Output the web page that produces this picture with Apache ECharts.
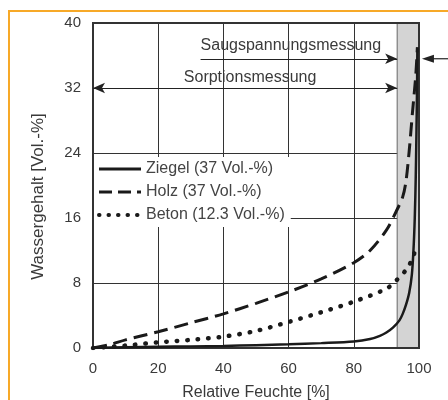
<!DOCTYPE html>
<html>
<head>
<meta charset="utf-8">
<script src="https://cdn.jsdelivr.net/npm/echarts@6/dist/echarts.min.js"></script>
<style>
html,body{margin:0;padding:0;background:#fff;}
#frame{position:absolute;left:8px;top:10px;width:460px;height:420px;border-left:2px solid #f7a928;border-top:2px solid #f7a928;box-sizing:border-box;}
#chart{position:absolute;left:0;top:0;width:448px;height:400px;}
</style>
</head>
<body>
<div id="frame"></div>
<div id="chart"></div>
<script>
const xTicks = [0, 20, 40, 60, 80, 100];
const yTicks = [0, 8, 16, 24, 32, 40];
const seriesNames = ['Ziegel (37 Vol.-%)', 'Holz (37 Vol.-%)', 'Beton (12.3 Vol.-%)'];
const ziegel = [[0,0],[10,0.1],[20,0.15],[30,0.2],[40,0.25],[50,0.35],[60,0.45],[70,0.6],[80,0.8],[85,1.1],[88,1.5],[90,1.9],[92,2.5],[94,3.4],[95,4.2],[96,5.3],[97,6.8],[97.8,9],[98.3,12],[98.7,16],[99,21],[99.2,26],[99.4,32],[99.5,37]];
const holz = [[0,0],[5,0.4],[10,1.0],[20,2.0],[30,3.1],[40,4.2],[50,5.5],[60,6.9],[70,8.5],[80,10.5],[85,12],[90,14.5],[93,16.8],[95,18.6],[96,20.5],[97,24.3],[98,29],[99,33.5],[99.5,37]];
const beton = [[0,0],[10,0.3],[20,0.7],[30,1.0],[40,1.4],[50,2.1],[60,3.2],[70,4.4],[80,5.7],[90,7.3],[93,8.3],[96,9.6],[98,11],[99,12.3]];
const bandRange = [93.3, 100];
const arrowSaug = {y: 35.6, from: 33, to: 93.3, label: 'Saugspannungsmessung'};
const arrowSorp = {y: 32, from: 0, to: 93.3, label: 'Sorptionsmessung'};
const arrowRight = {y: 35.6, from: 109, to: 100.9};

const chart = echarts.init(document.getElementById('chart'), null, {renderer: 'canvas'});
const font = 'Liberation Sans, Arial, sans-serif';
const txt = '#3a3a3a';
const gridLine = {show: true, lineStyle: {color: '#333', width: 1}};
const legendStyles = [
  {width: 3, type: 'solid'},
  {width: 3, type: [13, 6]},
  {width: 4, type: [0.5, 9], cap: 'round'}
];

chart.setOption({
  backgroundColor: 'transparent',
  animation: false,
  grid: {left: 93, right: 29, top: 23, bottom: 52, outerBoundsMode: 'none', containLabel: false,
    show: true, borderColor: '#333', borderWidth: 2, backgroundColor: 'transparent', z: 3},
  legend: {
    orient: 'vertical', left: 94, top: 157, width: 198,
    backgroundColor: '#fff', padding: [4, 6, 4, 3], itemGap: 7,
    itemWidth: 42, itemHeight: 15,
    itemStyle: {opacity: 0},
    textStyle: {fontFamily: font, fontSize: 16, color: '#444'},
    data: seriesNames.map((n, i) => ({name: n, lineStyle: Object.assign({color: '#1a1a1a'}, legendStyles[i])}))
  },
  xAxis: {
    type: 'value', min: 0, max: 100, interval: 20,
    name: 'Relative Feuchte [%]', nameLocation: 'middle', nameGap: 37,
    nameTextStyle: {fontFamily: font, fontSize: 16, color: txt},
    axisLine: {show: true, onZero: false, lineStyle: {color: '#333', width: 2}},
    axisTick: {show: false},
    axisLabel: {fontFamily: font, fontSize: 15, color: txt, margin: 13,
      formatter: v => xTicks.includes(v) ? String(v) : ''},
    splitLine: gridLine
  },
  yAxis: {
    type: 'value', min: 0, max: 40, interval: 8,
    name: 'Wassergehalt [Vol.-%]', nameLocation: 'middle', nameGap: 46,
    nameTextStyle: {fontFamily: font, fontSize: 17, color: txt, padding: [0, 22, 0, 0]},
    axisLine: {show: true, onZero: false, lineStyle: {color: '#333', width: 2}},
    axisTick: {show: false},
    axisLabel: {fontFamily: font, fontSize: 15, color: txt, margin: 12,
      formatter: v => yTicks.includes(v) ? String(v) : ''},
    splitLine: gridLine
  },
  series: [
    {
      name: seriesNames[0], type: 'line', data: ziegel, symbol: 'none', smooth: 0.3, z: 5,
      lineStyle: {color: '#1a1a1a', width: 2.5},
      itemStyle: {color: '#1a1a1a'},
      markArea: {
        silent: true, z: 1,
        itemStyle: {color: '#d4d4d4', borderColor: '#666', borderWidth: 1},
        data: [[{xAxis: bandRange[0], yAxis: 0}, {xAxis: bandRange[1], yAxis: 40}]]
      },
      markLine: {
        silent: true, symbol: ['none', 'arrow'], symbolSize: [8, 12], animation: false,
        lineStyle: {color: '#222', width: 1.2, type: 'solid'},
        label: {show: true, position: 'insideMiddleTop', fontFamily: font, fontSize: 16, color: txt, formatter: p => p.name || ''},
        data: [
          [{coord: [arrowSaug.from, arrowSaug.y], name: arrowSaug.label, label: {distance: 5, padding: [0, 16, 0, 0]}}, {coord: [arrowSaug.to, arrowSaug.y]}],
          [{coord: [arrowSorp.from, arrowSorp.y], name: arrowSorp.label, symbol: 'arrow', label: {distance: 2, padding: [0, 0, 0, 10]}}, {coord: [arrowSorp.to, arrowSorp.y]}]
        ]
      }
    },
    {
      name: seriesNames[1], type: 'line', data: holz, symbol: 'none', smooth: 0.3, z: 5,
      lineStyle: {color: '#1a1a1a', width: 3, type: [14, 7]},
      itemStyle: {color: '#1a1a1a'}
    },
    {
      name: seriesNames[2], type: 'line', data: beton, symbol: 'none', smooth: 0.3, z: 5,
      lineStyle: {color: '#1a1a1a', width: 4.5, type: [0.5, 10], cap: 'round'},
      itemStyle: {color: '#1a1a1a'}
    }
  ]
});

// right-side incoming arrow (outside plot), positioned from data coords
const p1 = chart.convertToPixel({gridIndex: 0}, [arrowRight.from, arrowRight.y]);
const p2 = chart.convertToPixel({gridIndex: 0}, [arrowRight.to, arrowRight.y]);
chart.setOption({
  graphic: [
    {type: 'line', silent: true, z: 10, shape: {x1: p1[0], y1: p1[1], x2: p2[0] + 8, y2: p2[1]}, style: {stroke: '#222', lineWidth: 1.2}},
    {type: 'polygon', silent: true, z: 10, shape: {points: [[p2[0], p2[1]], [p2[0] + 12, p2[1] - 4], [p2[0] + 12, p2[1] + 4]]}, style: {fill: '#222'}}
  ]
});
</script>
</body>
</html>
